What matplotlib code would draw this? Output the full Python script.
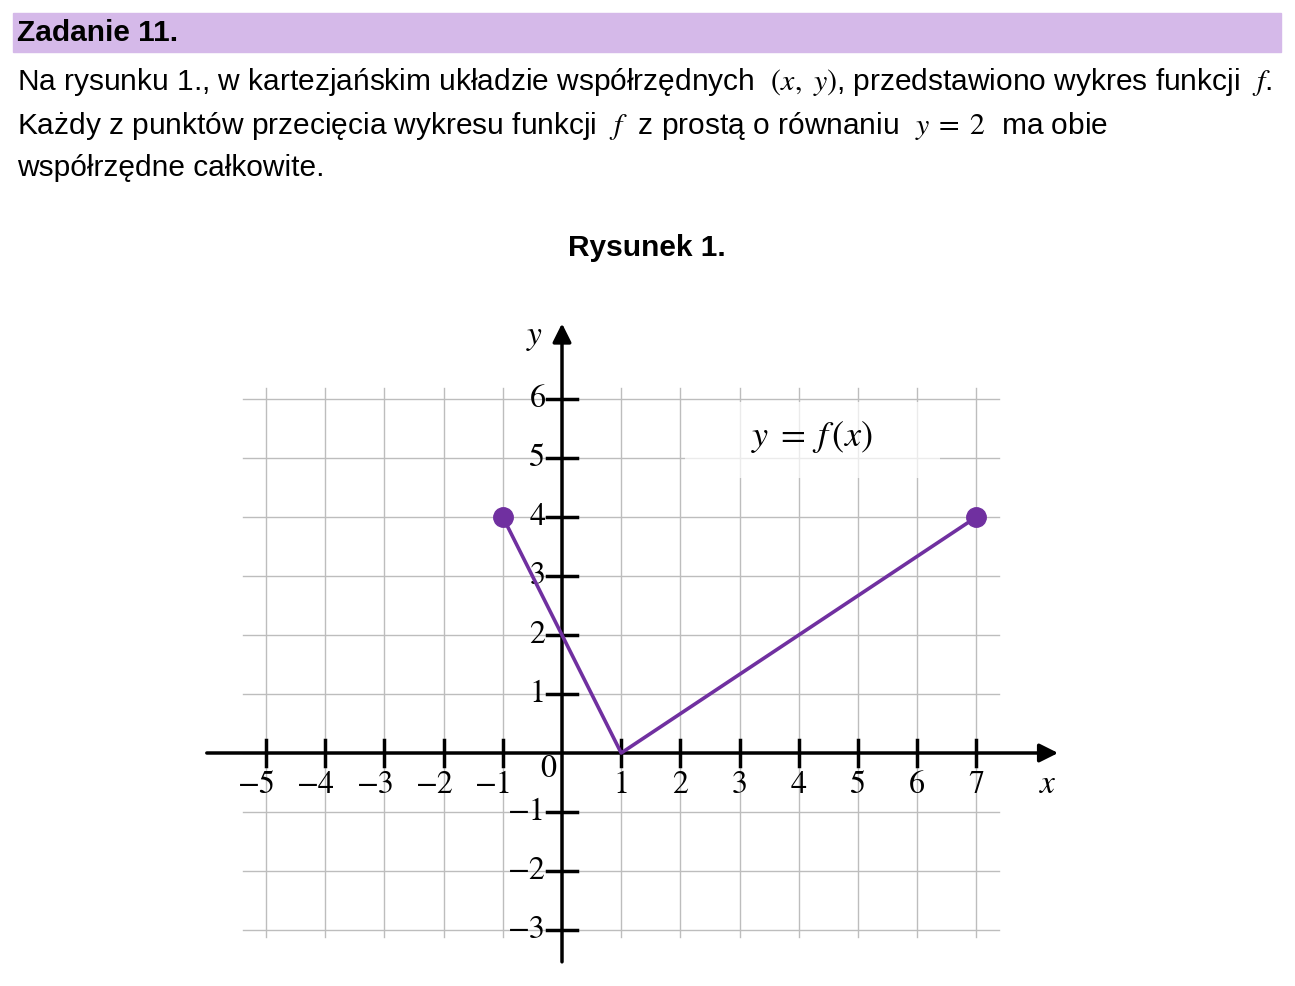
import matplotlib.pyplot as plt
from matplotlib.patches import Rectangle

plt.rcParams['mathtext.fontset'] = 'stix'
plt.rcParams['font.family'] = ['Liberation Sans', 'DejaVu Sans']

# function graph data
f_x = [-1, 1, 7]
f_y = [4, 0, 4]
end_x = [-1, 7]
end_y = [4, 4]

x_ticks = [-5, -4, -3, -2, -1, 1, 2, 3, 4, 5, 6, 7]
y_ticks = [-3, -2, -1, 1, 2, 3, 4, 5, 6]

purple = '#7030A0'
grid_col = '#BDBDBD'
math_font = 'STIXGeneral'
fs = 21.5

fig = plt.figure(figsize=(12.95, 9.86), dpi=100)

# header and text
fig.patches.append(Rectangle((13 / 1295, 1 - 52 / 986), 1268 / 1295, 39 / 986,
                             transform=fig.transFigure, color='#D5B9E9', zorder=0))
fig.text(17 / 1295, 1 - 33 / 986, "Zadanie 11.", fontsize=21.5, fontweight='bold', va='center')
fig.text(17 / 1295, 1 - 82 / 986,
         "Na rysunku 1., w kartezjańskim układzie współrzędnych  $(x,\\ y)$, przedstawiono wykres funkcji  $f$.",
         fontsize=fs, va='center')
fig.text(17 / 1295, 1 - 126 / 986,
         "Każdy z punktów przecięcia wykresu funkcji  $f$  z prostą o równaniu  $y\\;=\\;2$  ma obie",
         fontsize=fs, va='center')
fig.text(17 / 1295, 1 - 168 / 986, "współrzędne całkowite.", fontsize=fs, va='center')
fig.text(647 / 1295, 1 - 248 / 986, "Rysunek 1.", fontsize=21.5, fontweight='bold',
         ha='center', va='center')

# axes: 59.2 px per unit in x, 59 px per unit in y, origin at (562, 753)
xmin, xmax, ymin, ymax = -6.1, 8.5, -3.7, 7.4
left = (562 + 59.2 * xmin) / 1295
width = 59.2 * (xmax - xmin) / 1295
bottom = 1 - (753 - 59 * ymin) / 986
height = 59 * (ymax - ymin) / 986
ax = fig.add_axes([left, bottom, width, height])
ax.set_xlim(xmin, xmax)
ax.set_ylim(ymin, ymax)
ax.axis('off')

# grid
for gx in range(-5, 8):
    ax.plot([gx, gx], [-3.12, 6.19], color=grid_col, lw=1, zorder=1)
for gy in range(-3, 7):
    ax.plot([-5.39, 7.38], [gy, gy], color=grid_col, lw=1, zorder=1)

# label box
ax.add_patch(Rectangle((2.08, 4.66), 4.31, 1.29, facecolor='white', alpha=0.7,
                       edgecolor='none', zorder=2))
ax.text(4.22, 5.36, "$y\\;=\\;f\\,(x)$", fontsize=26, ha='center', va='center', zorder=3)

# axes with arrows
ax.annotate('', xy=(8.38, 0), xytext=(-6.0, 0),
            arrowprops=dict(arrowstyle='-|>', lw=2.5, color='black', mutation_scale=28,
                            shrinkA=0, shrinkB=0), zorder=4)
ax.annotate('', xy=(0, 7.28), xytext=(0, -3.54),
            arrowprops=dict(arrowstyle='-|>', lw=2.5, color='black', mutation_scale=28,
                            shrinkA=0, shrinkB=0), zorder=4)

# ticks and labels
for t in x_ticks:
    ax.plot([t, t], [-0.22, 0.22], color='black', lw=2.5, zorder=4)
    if t < 0:
        ax.text(t + 0.17, -0.54, "\u2212" + str(-t), fontsize=23, family=math_font,
                ha='right', va='center', zorder=3)
    else:
        ax.text(t, -0.54, str(t), fontsize=23, family=math_font,
                ha='center', va='center', zorder=3)
for t in y_ticks:
    ax.plot([-0.26, 0.26], [t, t], color='black', lw=2.5, zorder=4)
    lab = ("\u2212" + str(-t)) if t < 0 else str(t)
    ax.text(-0.28, t, lab, fontsize=23, family=math_font, ha='right', va='center', zorder=3)
ax.text(-0.24, -0.28, "0", fontsize=23, family=math_font, ha='center', va='center', zorder=3)
ax.text(8.2, -0.53, "$x$", fontsize=24, ha='center', va='center')
ax.text(-0.46, 7.05, "$y$", fontsize=24, ha='center', va='center')

# graph
ax.plot(f_x, f_y, color=purple, lw=2.6, zorder=5, solid_capstyle='round')
ax.plot(end_x, end_y, 'o', color=purple, markersize=14, zorder=6)

fig.savefig('out.png', dpi=100)
